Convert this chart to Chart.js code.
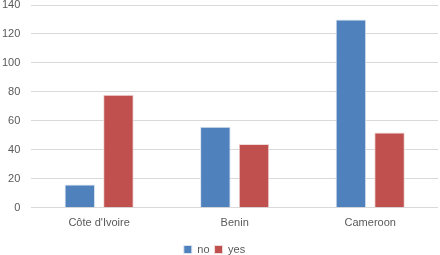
<!DOCTYPE html>
<html>
<head>
<meta charset="utf-8">
<script src="https://cdn.jsdelivr.net/npm/chart.js@4/dist/chart.umd.min.js"></script>
<style>
  html, body { margin: 0; padding: 0; background: #fff; }
  #wrap { width: 440px; height: 255px; }
</style>
</head>
<body>
<div id="wrap"><canvas id="chart"></canvas></div>
<script>
const countries = ['Côte d\'Ivoire', 'Benin', 'Cameroon'];
const noValues = [16, 56, 130];
const yesValues = [78, 44, 52];
const yTicks = [0, 20, 40, 60, 80, 100, 120, 140];

const ctx = document.getElementById('chart');

new Chart(ctx, {
    type: 'bar',
    data: {
        labels: countries,
        datasets: [{
            label: 'no',
            data: noValues,
            backgroundColor: '#4F81BD',
            borderColor: '#dbe4f0',
            borderWidth: 1,
            barPercentage: 0.79,
            categoryPercentage: 0.57,
        }, {
            label: 'yes',
            data: yesValues,
            backgroundColor: '#C0504D',
            borderColor: '#f0dada',
            borderWidth: 1,
            barPercentage: 0.79,
            categoryPercentage: 0.57,
        }]
    },
    options: {
        responsive: true,
        maintainAspectRatio: false,
        animation: false,
        layout: { padding: { top: 0, right: 2, left: -9, bottom: -10 } },
        plugins: {
            legend: {
                position: 'bottom',
                labels: {
                    boxWidth: 8,
                    boxHeight: 8,
                    padding: 5,
                    color: '#595959',
                    font: { family: 'Liberation Sans', size: 11 }
                }
            },
            tooltip: { enabled: false }
        },
        scales: {
            x: {
                grid: { display: false, drawTicks: false },
                border: { display: false },
                ticks: {
                    color: '#595959',
                    font: { family: 'Liberation Sans', size: 11 },
                    padding: 9
                }
            },
            y: {
                min: 0,
                max: 140,
                afterBuildTicks: axis => { axis.ticks = yTicks.map(v => ({ value: v })); },
                afterFit: axis => { axis.paddingTop = 5; },
                grid: { color: '#d9d9d9', drawTicks: false },
                border: { display: false },
                ticks: {
                    color: '#595959',
                    font: { family: 'Liberation Sans', size: 11 },
                    padding: 11
                }
            }
        }
    }
});
</script>
</body>
</html>
